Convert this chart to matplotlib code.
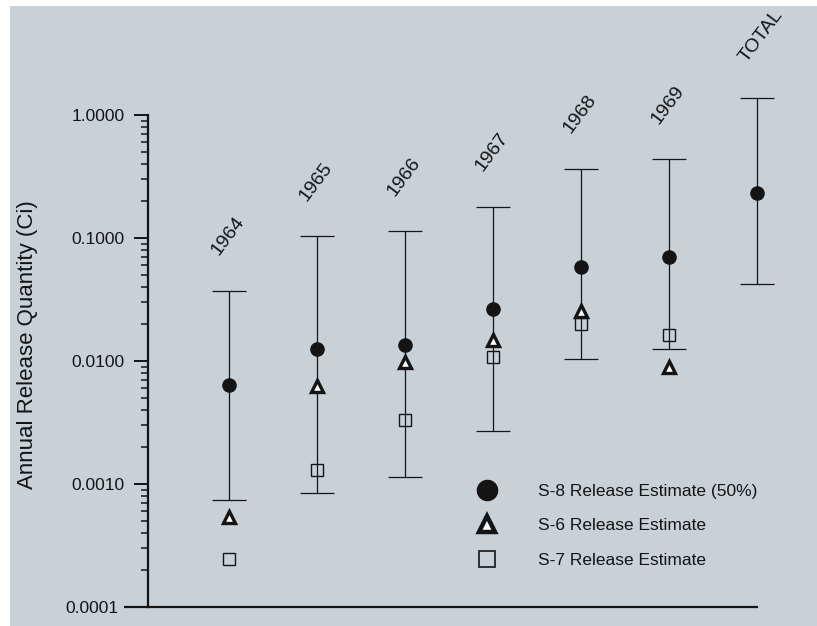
import matplotlib
matplotlib.use("Agg")
import matplotlib.pyplot as plt
from matplotlib.lines import Line2D
from matplotlib.patches import Rectangle
import numpy as np

plt.rcParams['font.family'] = ['Liberation Sans', 'DejaVu Sans']

# ---- data ----
categories = ['1964', '1965', '1966', '1967', '1968', '1969', 'TOTAL']
s8_median = [0.0064, 0.0126, 0.0134, 0.0264, 0.058, 0.0706, 0.234]
s8_upper = [0.0374, 0.103, 0.114, 0.18, 0.366, 0.44, 1.38]
s8_lower = [0.00074, 0.00085, 0.00113, 0.0027, 0.0103, 0.0126, 0.0425]
s6_values = [0.00054, 0.0063, 0.0099, 0.0149, 0.0256, 0.0090, np.nan]
s7_values = [0.000247, 0.0013, 0.0033, 0.0107, 0.0201, 0.0164, np.nan]
ytick_values = [0.0001, 0.001, 0.01, 0.1, 1.0]
ytick_labels = ['0.0001', '0.0010', '0.0100', '0.1000', '1.0000']
legend_labels = ['S-8 Release Estimate (50%)', 'S-6 Release Estimate',
                 'S-7 Release Estimate']

BG = '#c9d1d7'
INK = '#141414'

W, H = 817, 626
fig = plt.figure(figsize=(W / 100, H / 100), dpi=100, facecolor=BG)
# white page border of the photo
fig.patches.append(Rectangle((0, 1 - 6 / H), 1, 6 / H, transform=fig.transFigure,
                             facecolor='white', edgecolor='none', zorder=-1))
fig.patches.append(Rectangle((0, 0), 10 / W, 1, transform=fig.transFigure,
                             facecolor='white', edgecolor='none', zorder=-1))

ax_left, ax_right = 148, 800
ax_top, ax_bottom = 115, 607
ax = fig.add_axes([ax_left / W, (H - ax_bottom) / H,
                   (ax_right - ax_left) / W, (ax_bottom - ax_top) / H])
ax.set_facecolor('none')

x = np.arange(1, len(categories) + 1)
step = 88.0
xmin = 1 - (229 - ax_left) / step
xmax = 1 + (ax_right - 229) / step
ax.set_xlim(xmin, xmax)
ax.set_yscale('log')
ax.set_ylim(1e-4, 1.0)

med = np.array(s8_median)
yerr = np.vstack([med - np.array(s8_lower), np.array(s8_upper) - med])
ax.errorbar(x, med, yerr=yerr, fmt='o', color=INK, ecolor=INK, elinewidth=0.9,
            capsize=12.5, capthick=0.9, markersize=9.5, clip_on=False, zorder=3)
ax.plot(x, s6_values, linestyle='none', marker='^', markersize=8.5,
        markerfacecolor='white', markeredgecolor=INK, markeredgewidth=2.4,
        clip_on=False, zorder=4)
ax.plot(x, s7_values, linestyle='none', marker='s', markersize=8.5,
        markerfacecolor='none', markeredgecolor=INK, markeredgewidth=1.0,
        clip_on=False, zorder=4)

for xi, up, lab in zip(x, s8_upper, categories):
    ax.annotate(lab, xy=(xi, up), xytext=(-5, 23), textcoords='offset points',
                rotation=53, rotation_mode='anchor', ha='left', va='bottom',
                fontsize=14, color=INK, annotation_clip=False)

# axes styling
for s in ['top', 'right']:
    ax.spines[s].set_visible(False)
ax.spines['left'].set_linewidth(1.6)
ax.spines['bottom'].set_linewidth(1.6)
ax.spines['left'].set_color(INK)
ax.spines['bottom'].set_color(INK)
ax.spines['bottom'].set_bounds(xmin, 7)
ax.set_xticks([])
ax.set_yticks(ytick_values)
ax.set_yticklabels(ytick_labels)
ax.tick_params(axis='y', which='major', length=10, width=1.4, pad=7,
               labelsize=12.5, colors=INK, direction='out')
ax.tick_params(axis='y', which='minor', length=5, width=1.1, colors=INK,
               direction='out')
# the bottom tick (0.0001) is drawn longer, continuing the baseline
bottom_tick = ax.yaxis.get_major_ticks()[0]
bottom_tick._apply_params(size=17, width=1.6, pad=4)

ax.set_ylabel('Annual Release Quantity (Ci)', fontsize=16, color=INK)
ax.yaxis.set_label_coords((38 - ax_left) / (ax_right - ax_left),
                          (ax_bottom - 345) / (ax_bottom - ax_top))

handles = [
    Line2D([], [], linestyle='none', marker='o', markersize=14.5, color=INK),
    Line2D([], [], linestyle='none', marker='^', markersize=12,
           markerfacecolor='white', markeredgecolor=INK, markeredgewidth=3.2),
    Line2D([], [], linestyle='none', marker='s', markersize=12,
           markerfacecolor='none', markeredgecolor=INK, markeredgewidth=1.2),
]
fig.legend(handles, legend_labels, loc='upper left',
           bbox_to_anchor=(475 / W, 1 - 484 / H), frameon=False,
           fontsize=12.5, handlelength=1.4, handletextpad=2.2,
           labelspacing=1.1, borderpad=0, borderaxespad=0, labelcolor=INK)

fig.savefig('out.png', dpi=100, facecolor=BG)
